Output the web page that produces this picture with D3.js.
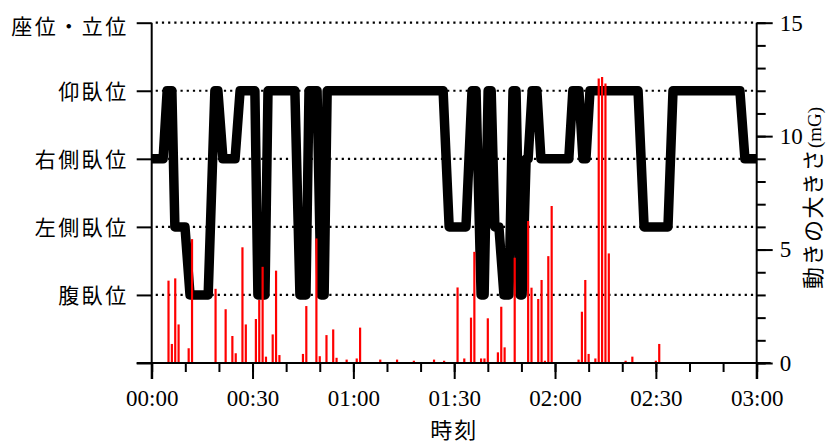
<!DOCTYPE html>
<html>
<head>
<meta charset="utf-8">
<script src="https://cdn.jsdelivr.net/npm/d3@7"></script>
<style>
  body { margin: 0; background: #fff; }
  .jp { font-family: "Noto Sans CJK JP", sans-serif; }
  .num { font-family: "Liberation Serif", "Times New Roman", serif; }
</style>
</head>
<body>
<div id="container"></div>
<script>
// posture categories (level 1..5, 0 = baseline)
var postureLabels = ["腹臥位", "左側臥位", "右側臥位", "仰臥位", "座位・立位"];
var postureLevels = [1, 2, 3, 4, 5];

// posture trace: minutes since 00:00 and level
var postureTime = [0, 3.4, 4.6, 6, 6.9, 9.9, 11.4, 16.8, 18.8, 19.7, 21.2, 24.8, 26.3, 30.7, 31.6, 33.7,
  34.6, 42.6, 44.1, 45.9, 46.8, 49.2, 50.4, 51.3, 52.2, 86.7, 88.5, 93.5, 95.3, 96.5, 98, 98.9,
  100.1, 101, 102.1, 103.3, 104.8, 106.3, 107.5, 108.4, 109.6, 110.2, 111.4, 112, 113.2, 114.6, 115.8,
  124.1, 125.3, 127.1, 128.3, 129.2, 130.4, 144.7, 146.5, 153.6, 155.1, 175, 176.5, 180];
var postureValue = [3, 3, 4, 4, 2, 2, 1, 1, 4, 4, 3, 3, 4, 4, 1, 1,
  4, 4, 1, 1, 4, 4, 1, 1, 4, 4, 2, 2, 4, 4, 1, 1,
  4, 4, 2, 2, 1, 1, 4, 4, 1, 1, 3, 3, 4, 4, 3,
  3, 4, 4, 3, 3, 4, 4, 2, 2, 4, 4, 3, 3];

// movement magnitude (mG)
var moveTime = [5, 6, 7, 8, 11, 12, 19, 22, 24, 25, 27, 28, 31, 32, 33, 34, 36, 37, 38, 45, 46, 49, 50,
  52, 54, 55, 58, 61, 62, 68, 73, 78, 84, 87, 91, 93, 95, 96, 98, 99, 100, 103, 104, 105, 108,
  112, 113, 115, 116, 117, 118, 119, 127, 128, 129, 130, 132, 133, 134, 135, 136, 141, 143, 150, 151];
var moveValue = [3.63, 0.84, 3.73, 1.7, 0.65, 5.46, 3.27, 2.37, 1.19, 0.43, 5.1, 1.7, 1.94, 2.78, 4.24, 0.28, 1.26, 4.07, 0.35, 0.4, 2.51, 5.49, 0.3,
  1.23, 1.48, 0.23, 0.15, 0.2, 1.56, 0.15, 0.15, 0.1, 0.15, 0.1, 3.33, 0.2, 2.0, 4.9, 0.2, 0.2, 1.97, 0.47, 2.48, 0.69, 4.64,
  6.26, 3.32, 2.82, 3.66, 0.1, 4.71, 6.92, 0.15, 2.26, 3.66, 0.4, 0.2, 12.54, 12.61, 12.32, 4.83, 0.1, 0.28, 0.1, 0.84];

var timeTicks = [0, 30, 60, 90, 120, 150, 180];
var timeLabels = ["00:00", "00:30", "01:00", "01:30", "02:00", "02:30", "03:00"];
var magTicks = [0, 5, 10, 15];

var width = 828, height = 443;
var plotLeft = 151.7, plotRight = 756.7, plotTop = 22.7, plotBottom = 363;

var svg = d3.select("#container").append("svg")
    .attr("width", width)
    .attr("height", height);

var x = d3.scaleLinear().domain([0, 180]).range([plotLeft, plotRight]);
var yPos = d3.scaleLinear().domain([0, 5]).range([plotBottom, plotTop]);
var yMag = d3.scaleLinear().domain([0, 15]).range([plotBottom, plotTop]);

// dotted grid lines at each posture level
svg.append("g")
  .selectAll("line")
  .data(postureLevels)
  .enter().append("line")
    .attr("x1", plotLeft + 4).attr("x2", plotRight)
    .attr("y1", function(d) { return yPos(d); })
    .attr("y2", function(d) { return yPos(d); })
    .style("stroke", "#000")
    .style("stroke-width", 2.2)
    .style("stroke-dasharray", "2.2,4");

// posture line
var pts = postureTime.map(function(t, i) { return [t, postureValue[i]]; });
svg.append("path")
    .datum(pts)
    .attr("d", d3.line()
        .x(function(d) { return x(d[0]); })
        .y(function(d) { return yPos(d[1]); }))
    .style("fill", "none")
    .style("stroke", "#000")
    .style("stroke-width", 9.5)
    .style("stroke-linejoin", "round");

// movement bars
svg.append("g")
  .selectAll("line")
  .data(moveTime)
  .enter().append("line")
    .attr("x1", function(d) { return x(d); })
    .attr("x2", function(d) { return x(d); })
    .attr("y1", yMag(0))
    .attr("y2", function(d, i) { return yMag(moveValue[i]); })
    .style("stroke", "#ff0000")
    .style("stroke-width", 2.2);

// axes
function styleAxis(g) {
  g.selectAll("path.domain").remove();
  g.selectAll("line").style("stroke", "#000").style("stroke-width", 2);
}

// left posture axis
var leftAxis = svg.append("g")
    .attr("transform", "translate(" + plotLeft + ",0)")
    .call(d3.axisLeft(yPos).tickValues([0].concat(postureLevels)).tickSize(15).tickFormat(function(d) {
        return d === 0 ? "" : postureLabels[d - 1];
    }));
styleAxis(leftAxis);
leftAxis.selectAll("text")
    .attr("class", "jp")
    .attr("x", -23)
    .attr("dy", "0.36em")
    .style("font-size", "21px")
    .style("letter-spacing", "2.5px")
    .style("fill", "#000");
leftAxis.selectAll(".tick").filter(function(d) { return d === 5; }).select("text").attr("dy", "0.5em");

// bottom time axis (minor + major)
var minorX = svg.append("g")
    .attr("transform", "translate(0," + plotBottom + ")")
    .call(d3.axisBottom(x).tickValues(d3.range(0, 181, 10)).tickSize(9).tickFormat(""));
styleAxis(minorX);
var majorX = svg.append("g")
    .attr("transform", "translate(0," + plotBottom + ")")
    .call(d3.axisBottom(x).tickValues(timeTicks).tickSize(16).tickFormat(function(d, i) { return timeLabels[i]; }));
styleAxis(majorX);
majorX.selectAll("text")
    .attr("class", "num")
    .attr("y", 43)
    .attr("dy", 0)
    .style("font-size", "23px")
    .style("fill", "#000");

// right magnitude axis (minor + major)
var minorR = svg.append("g")
    .attr("transform", "translate(" + plotRight + ",0)")
    .call(d3.axisRight(yMag).tickValues(d3.range(0, 16, 1)).tickSize(9).tickFormat(""));
styleAxis(minorR);
var majorR = svg.append("g")
    .attr("transform", "translate(" + plotRight + ",0)")
    .call(d3.axisRight(yMag).tickValues(magTicks).tickSize(16));
styleAxis(majorR);
majorR.selectAll("text")
    .attr("class", "num")
    .attr("x", 23)
    .attr("dy", "0.32em")
    .style("font-size", "23px")
    .style("fill", "#000");

// axis lines
var axisLines = [
  [plotLeft, plotTop, plotLeft, plotBottom + 16],
  [plotRight, plotTop, plotRight, plotBottom + 16],
  [plotLeft - 15, plotBottom, plotRight + 14, plotBottom]
];
svg.append("g")
  .selectAll("line")
  .data(axisLines)
  .enter().append("line")
    .attr("x1", function(d) { return d[0]; })
    .attr("y1", function(d) { return d[1]; })
    .attr("x2", function(d) { return d[2]; })
    .attr("y2", function(d) { return d[3]; })
    .style("stroke", "#000")
    .style("stroke-width", 2);

// axis titles
svg.append("text")
    .attr("class", "jp")
    .attr("x", (plotLeft + plotRight) / 2)
    .attr("y", 438)
    .attr("text-anchor", "middle")
    .style("font-size", "22px")
    .style("letter-spacing", "2px")
    .text("時刻");

var rt = svg.append("text")
    .attr("transform", "translate(821,198) rotate(-90)")
    .attr("text-anchor", "middle");
rt.append("tspan")
    .attr("class", "jp")
    .style("font-size", "22px")
    .style("letter-spacing", "1.5px")
    .text("動きの大きさ");
rt.append("tspan")
    .attr("class", "num")
    .style("font-size", "19px")
    .text("(mG)");
</script>
</body>
</html>
